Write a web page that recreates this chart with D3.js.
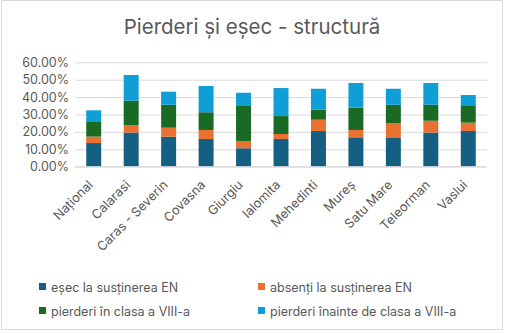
<!DOCTYPE html>
<html><head><meta charset="utf-8">
<script src="https://cdn.jsdelivr.net/npm/d3@7/dist/d3.min.js"></script>
<style>body{margin:0;background:#fff}svg{display:block}</style>
</head><body>
<svg id="c" width="506" height="334"></svg>
<script>
const categories = ["Național","Calarasi","Caras - Severin","Covasna","Giurgiu","Ialomita","Mehedinti","Mureș","Satu Mare","Teleorman","Vaslui"];
const esec      = [13.6,19.6,17.2,15.9,10.6,15.9,20.5,16.9,16.5,19.6,20.5];
const absenti   = [3.7, 4.2, 5.2, 5.2, 4.2, 2.9, 6.5, 4.2, 8.4, 6.8, 4.8];
const pierdVIII = [8.8,14.1,13.2,10.2,20.1,10.3, 5.8,12.8,10.7, 9.2,10.0];
const inainte   = [6.3,14.8, 7.5,15.1, 7.6,16.1,12.0,14.2, 9.2,12.5, 5.9];
const seriesNames = ["eșec la susținerea EN","absenți la susținerea EN","pierderi în clasa a VIII-a","pierderi înainte de clasa a VIII-a"];
const colors = ["#156082","#e97132","#196b24","#0f9ed5"];
const yTicks = [0,10,20,30,40,50,60];

const svg = d3.select("#c");
const font = "Inter, 'Open Sans', sans-serif";
svg.append("rect").attr("x",1.5).attr("y",0.5).attr("width",501).attr("height",329)
  .attr("fill","#fff").attr("stroke","#d9d9d9");

svg.append("text").attr("x",252).attr("y",34).attr("text-anchor","middle")
  .attr("font-family",font).attr("font-size",20.5).attr("fill","#595959")
  .text("Pierderi și eșec - structură");

const x = d3.scaleBand().domain(categories).range([75,487]).paddingInner(0.6).paddingOuter(0.3);
const y = d3.scaleLinear().domain([0,60]).range([166.7,62.3]);

const gy = svg.append("g").attr("transform","translate(75,0)")
  .call(d3.axisLeft(y).tickValues(yTicks).tickSize(-412).tickFormat(d=>d.toFixed(2)+"%"));
gy.select(".domain").remove();
gy.selectAll("line").attr("stroke","#d9d9d9").attr("stroke-width",1);
gy.selectAll("text").attr("x",-6).attr("font-family",font).attr("font-size",12.5).attr("fill","#595959");

const data = categories.map((c,i)=>({cat:c, s0:esec[i], s1:absenti[i], s2:pierdVIII[i], s3:inainte[i]}));
const stack = d3.stack().keys(["s0","s1","s2","s3"])(data);
svg.append("g").selectAll("g").data(stack).join("g").attr("fill",(d,i)=>colors[i])
  .selectAll("rect").data(d=>d).join("rect")
  .attr("x",d=>x(d.data.cat)).attr("width",x.bandwidth())
  .attr("y",d=>y(d[1])).attr("height",d=>y(d[0])-y(d[1]));

svg.append("line").attr("x1",75).attr("x2",487).attr("y1",y(0)).attr("y2",y(0)).attr("stroke","#d9d9d9");

const gx = svg.append("g").attr("transform",`translate(0,${y(0)})`)
  .call(d3.axisBottom(x).tickSize(0));
gx.select(".domain").remove();
gx.selectAll("text").attr("font-family",font).attr("font-size",12.8).attr("fill","#595959")
  .attr("text-anchor","end").attr("dy",0).attr("y",0)
  .attr("transform","translate(0,19) rotate(-45)");

const leg = [[39,288],[258,288],[39,312],[258,312]];
seriesNames.forEach((n,i)=>{
  const g = svg.append("g").attr("transform",`translate(${leg[i][0]},${leg[i][1]})`);
  g.append("rect").attr("x",0).attr("y",-5).attr("width",7).attr("height",7).attr("fill",colors[i]);
  g.append("text").attr("x",12).attr("y",3.5).attr("font-family",font).attr("font-size",12.5)
    .attr("fill","#595959").text(n);
});
</script>
</body></html>
